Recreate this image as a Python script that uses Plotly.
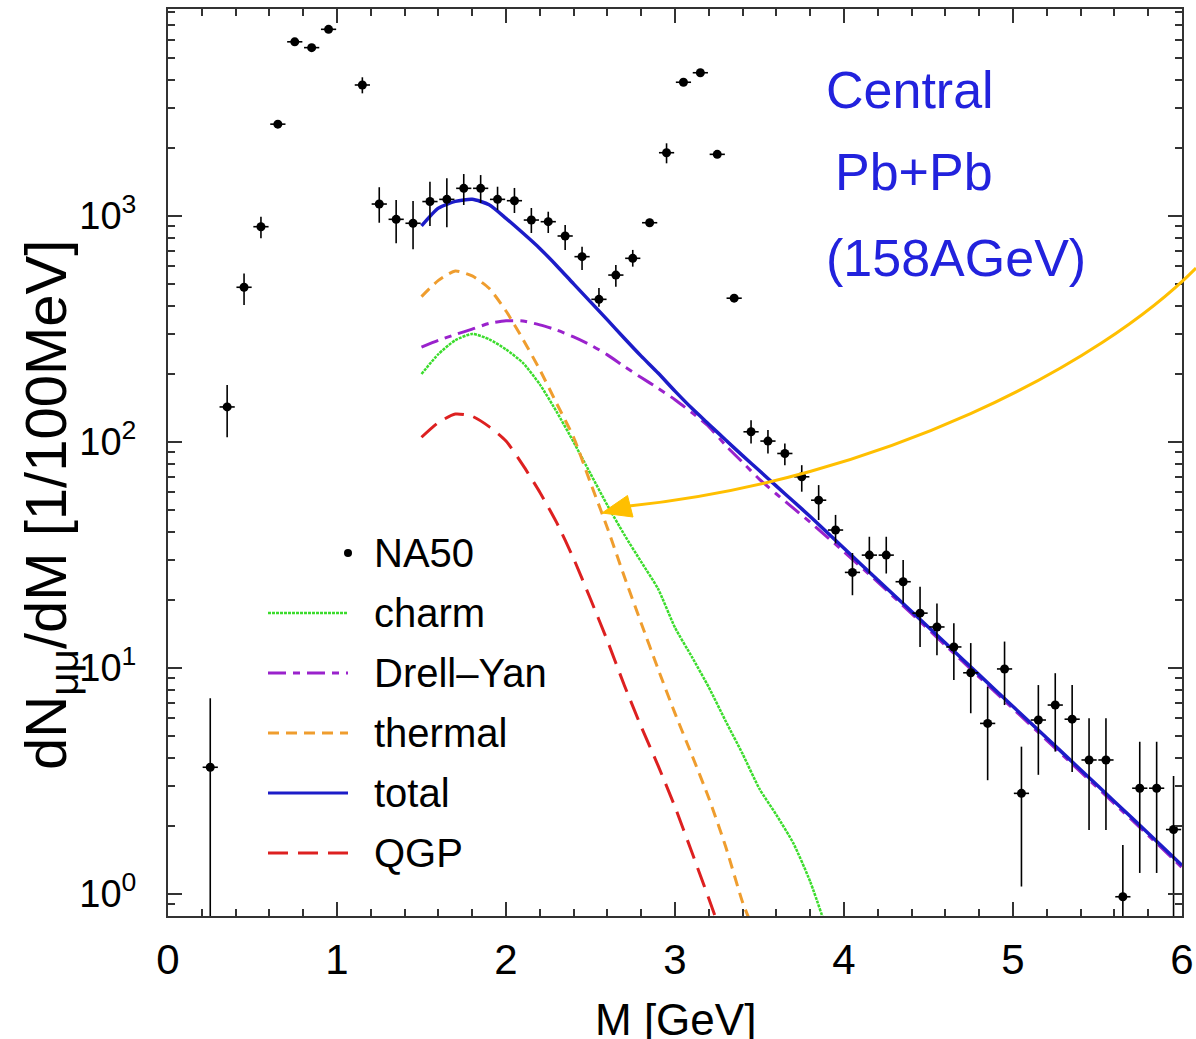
import plotly.graph_objects as go

# ---------------- data ----------------
# NA50 dimuon data: bin centres (GeV), values, upper/lower ends of error bars
m_data = [0.25, 0.35, 0.45, 0.55, 0.65, 0.75, 0.85, 0.95, 1.15, 1.25, 1.35, 1.45,
          1.55, 1.65, 1.75, 1.85, 1.95, 2.05, 2.15, 2.25, 2.35, 2.45, 2.55, 2.65,
          2.75, 2.85, 2.95, 3.05, 3.15, 3.25, 3.35, 3.45, 3.55, 3.65, 3.75, 3.85,
          3.95, 4.05, 4.15, 4.25, 4.35, 4.45, 4.55, 4.65, 4.75, 4.85, 4.95, 5.05,
          5.15, 5.25, 5.35, 5.45, 5.55, 5.65, 5.75, 5.85, 5.95]
y_data = [3.64, 143, 484, 897, 2550, 5900, 5560, 6700, 3800, 1130, 967, 929,
          1159, 1185, 1326, 1326, 1185, 1169, 960, 944, 816, 661, 428, 548,
          650, 934, 1906, 3908, 4305, 1875, 433, 111, 101, 89, 70.2, 55.3,
          40.8, 26.5, 31.6, 31.6, 24.1, 17.5, 15.2, 12.4, 9.53, 5.69, 9.91, 2.79,
          5.89, 6.86, 5.94, 3.92, 3.92, 0.973, 2.94, 2.94, 1.93]
y_hi = [7.35, 179, 557, 993, 2660, 6090, 5740, 6920, 4110, 1341, 1177, 1165,
        1419, 1468, 1534, 1518, 1348, 1331, 1085, 1045, 912, 731, 480, 607,
        708, 972, 2098, 4030, 4440, 1935, 447, 125, 113, 98.6, 79, 64.5,
        47.6, 32.3, 38.1, 38.1, 30.1, 22.9, 19.3, 15.8, 12.9, 8.26, 13.1, 4.49,
        8.41, 9.49, 8.41, 5.99, 5.99, 1.65, 4.72, 4.72, 3.33]
y_lo = [0.3, 105, 404, 797, 2450, 5720, 5390, 6500, 3490, 934, 757, 712,
        903, 891, 1119, 1142, 1063, 1031, 841, 841, 707, 577, 397, 486,
        597, 898, 1711, 3790, 4170, 1815, 420, 98.6, 89, 79, 60.3, 45.2,
        35.6, 21.0, 26.2, 26.2, 19.3, 12.4, 11.4, 8.85, 6.31, 3.19, 6.86, 1.08,
        3.37, 4.27, 3.47, 1.92, 1.92, 0.3, 1.24, 1.24, 0.3]
bin_half_width = 0.045

# model curves
m_curve = [1.5, 1.6, 1.7, 1.8, 1.9, 2.0, 2.1, 2.2, 2.3, 2.4, 2.5, 2.6, 2.7, 2.8,
           2.9, 3.0, 3.1, 3.2, 3.3, 3.4, 3.5, 3.6, 3.7, 3.8, 3.9]
charm = [200, 245, 282, 301, 285, 257, 224, 180, 136, 100, 72.4, 52.5, 38.9, 29.5,
         22.4, 15.1, 11.2, 8.22, 5.82, 4.17, 2.92, 2.24, 1.68, 1.135, 0.69]

m_thermal = [1.5, 1.6, 1.7, 1.8, 1.9, 2.0, 2.1, 2.2, 2.3, 2.4, 2.5, 2.6, 2.7, 2.8,
             2.9, 3.0, 3.1, 3.2, 3.3, 3.4, 3.45]
thermal = [440, 519, 571, 543, 479, 380, 285, 209, 148, 105, 66, 41.7, 25.4, 15.8,
           9.9, 6.3, 4.12, 2.66, 1.62, 0.92, 0.74]

m_qgp = [1.5, 1.6, 1.7, 1.8, 1.9, 2.0, 2.1, 2.2, 2.3, 2.4, 2.5, 2.6, 2.7, 2.8,
         2.9, 3.0, 3.1, 3.2, 3.25]
qgp = [105, 122, 133, 130, 117, 101, 79, 60, 44, 30.5, 20.2, 13.2, 8.4, 5.5,
       3.7, 2.43, 1.53, 0.955, 0.75]

m_long = [1.5, 1.6, 1.7, 1.8, 1.9, 2.0, 2.1, 2.2, 2.3, 2.4, 2.5, 2.6, 2.7, 2.8,
          2.9, 3.0, 3.1, 3.2, 3.3, 3.4, 3.5, 3.6, 3.7, 3.8, 4.0, 4.2, 4.4, 4.6,
          4.8, 5.0, 5.2, 5.4, 5.6, 5.8, 6.0]
drell_yan = [263, 282, 299, 316, 335, 344, 343, 330, 313, 292, 269, 243, 216, 193,
             173, 154, 135, 117, 96.6, 81.3, 68.4, 58.9, 51.0, 44.2, 32.7, 24.0, 17.4, 12.6,
             9.12, 6.61, 4.79, 3.47, 2.51, 1.82, 1.31]
total = [904, 1084, 1161, 1186, 1122, 977, 841, 719, 603, 501, 417, 347, 288, 240,
         202, 168, 141, 120, 102, 87.1, 74.6, 63.8, 54.7, 46.8, 33.9, 24.5, 17.8, 12.9,
         9.33, 6.76, 4.90, 3.55, 2.57, 1.86, 1.34]

y_tickvals = [1, 10, 100, 1000]
y_ticktext = ["10<sup>0</sup>", "10<sup>1</sup>", "10<sup>2</sup>", "10<sup>3</sup>"]
x_tickvals = [0, 1, 2, 3, 4, 5, 6]
minor_digits = [2, 3, 4, 5, 6, 7, 8, 9]
decades = [0.1, 1, 10, 100, 1000]

legend_names = ["NA50", "charm", "Drell\u2013Yan", "thermal", "total", "QGP"]
info_lines = ["Central", "Pb+Pb", "(158AGeV)"]

# ---------------- styles ----------------
FONT = "Liberation Sans, Arial, Helvetica, sans-serif"
C_CHARM = "#3bdc2c"
C_DY = "#9a22cc"
C_TH = "#ef9d2e"
C_TOT = "#1c1cc8"
C_QGP = "#dd2020"
C_BLUE_TEXT = "#2222dd"
C_ARROW = "#ffbf00"
C_AXIS = "#333333"

DASH_CHARM = "3px,1px"
DASH_DY = "18px,7px,7px,7px"
DASH_TH = "11px,7px"
DASH_QGP = "20px,10px"

# plot area in pixels (for annotation placement)
L, R, T, B = 168, 1182, 9, 916


def px(xp, yp):
    return (xp - L) / (R - L), (B - yp) / (B - T)


fig = go.Figure()

err_up = [h - v for h, v in zip(y_hi, y_data)]
err_dn = [v - l for v, l in zip(y_data, y_lo)]

fig.add_trace(go.Scatter(
    x=m_curve, y=charm, mode="lines", name="charm", line_shape="spline",
    line=dict(color=C_CHARM, width=2.5, dash=DASH_CHARM, smoothing=0.6)))
fig.add_trace(go.Scatter(
    x=m_long, y=drell_yan, mode="lines", name="Drell-Yan", line_shape="spline",
    line=dict(color=C_DY, width=3, dash=DASH_DY, smoothing=0.6)))
fig.add_trace(go.Scatter(
    x=m_thermal, y=thermal, mode="lines", name="thermal", line_shape="spline",
    line=dict(color=C_TH, width=3, dash=DASH_TH, smoothing=0.6)))
fig.add_trace(go.Scatter(
    x=m_qgp, y=qgp, mode="lines", name="QGP", line_shape="spline",
    line=dict(color=C_QGP, width=3, dash=DASH_QGP, smoothing=0.6)))
fig.add_trace(go.Scatter(
    x=m_long, y=total, mode="lines", name="total", line_shape="spline",
    line=dict(color=C_TOT, width=3.5, smoothing=0.6)))
fig.add_trace(go.Scatter(
    x=m_data, y=y_data, mode="markers", name="NA50",
    marker=dict(color="black", size=9),
    error_y=dict(type="data", symmetric=False, array=err_up, arrayminus=err_dn,
                 color="black", thickness=1.6, width=0),
    error_x=dict(type="constant", value=bin_half_width, color="black",
                 thickness=1.6, width=0)))

axis_common = dict(
    showline=True, linecolor=C_AXIS, linewidth=2, mirror="allticks",
    ticks="inside", tickcolor=C_AXIS, tickwidth=1.5, showgrid=False, zeroline=False,
    automargin=False,
)

fig.update_xaxes(
    range=[0, 6], tickmode="array", tickvals=x_tickvals, ticklen=14,
    minor=dict(dtick=0.2, ticks="inside", ticklen=7, tickcolor=C_AXIS, showgrid=False),
    ticklabelstandoff=6, tickfont=dict(family=FONT, size=42, color="black"),
    **axis_common)
fig.update_yaxes(
    type="log", range=[-0.097, 3.916], tickmode="array", tickvals=y_tickvals,
    ticktext=y_ticktext, ticklen=14,
    minor=dict(tickmode="array", tickvals=[d * k for k in decades for d in minor_digits],
               ticks="inside", ticklen=7, tickcolor=C_AXIS, showgrid=False),
    ticklabelstandoff=22, tickfont=dict(family=FONT, size=38, color="black"),
    **axis_common)

annotations = []
shapes = []

# axis titles
x0, y0 = px(50, 505)
annotations.append(dict(
    xref="paper", yref="paper", x=x0, y=y0, xanchor="center", yanchor="middle",
    text="dN<sub>\u03bc\u03bc</sub>/dM [1/100MeV]", textangle=-90, showarrow=False,
    font=dict(family=FONT, size=58, color="black")))
x0, y0 = px(675, 1019)
annotations.append(dict(
    xref="paper", yref="paper", x=x0, y=y0, xanchor="center", yanchor="middle",
    text="M [GeV]", showarrow=False, font=dict(family=FONT, size=44, color="black")))

# blue info text
for txt, (xx, yy) in zip(info_lines, [(824, 90), (833, 172), (824, 258)]):
    a, b = px(xx, yy)
    annotations.append(dict(
        xref="paper", yref="paper", x=a, y=b, xanchor="left", yanchor="middle",
        text=txt, showarrow=False, font=dict(family=FONT, size=52, color=C_BLUE_TEXT)))

# manual legend
leg_y = [553, 613, 673, 733, 793, 853]
leg_style = [None,
             (C_CHARM, 2.5, DASH_CHARM),
             (C_DY, 3, DASH_DY),
             (C_TH, 3, DASH_TH),
             (C_TOT, 3, "solid"),
             (C_QGP, 3, DASH_QGP)]
for name, yy, st in zip(legend_names, leg_y, leg_style):
    a, b = px(372, yy)
    annotations.append(dict(
        xref="paper", yref="paper", x=a, y=b, xanchor="left", yanchor="middle",
        text=name, showarrow=False, font=dict(family=FONT, size=40, color="black")))
    if st is None:
        c1 = px(344, yy - 4)
        c2 = px(352, yy + 4)
        shapes.append(dict(type="circle", xref="paper", yref="paper",
                           x0=c1[0], y0=c1[1], x1=c2[0], y1=c2[1],
                           fillcolor="black", line=dict(width=0)))
    else:
        color, w, d = st
        p1 = px(268, yy)
        p2 = px(348, yy)
        shapes.append(dict(type="line", xref="paper", yref="paper",
                           x0=p1[0], y0=p1[1], x1=p2[0], y1=p2[1],
                           line=dict(color=color, width=w, dash=d)))

# yellow arrow (cubic bezier + head)
P = [px(1196, 268), px(1100, 365), px(880, 480), px(629, 506)]
path = "M {:.5f},{:.5f} C {:.5f},{:.5f} {:.5f},{:.5f} {:.5f},{:.5f}".format(
    P[0][0], P[0][1], P[1][0], P[1][1], P[2][0], P[2][1], P[3][0], P[3][1])
shapes.append(dict(type="path", xref="paper", yref="paper", path=path,
                   line=dict(color=C_ARROW, width=3)))
H = [px(602, 513), px(633, 517), px(627.5, 495.5)]
hpath = "M {:.5f},{:.5f} L {:.5f},{:.5f} L {:.5f},{:.5f} Z".format(
    H[0][0], H[0][1], H[1][0], H[1][1], H[2][0], H[2][1])
shapes.append(dict(type="path", xref="paper", yref="paper", path=hpath,
                   fillcolor=C_ARROW, line=dict(color=C_ARROW, width=1)))

fig.update_layout(
    width=1196, height=1039, autosize=False,
    margin=dict(l=L, r=1196 - R, t=T, b=1039 - B),
    paper_bgcolor="white", plot_bgcolor="white",
    showlegend=False,
    annotations=annotations, shapes=shapes,
    font=dict(family=FONT),
)

fig.write_html("out.html")
